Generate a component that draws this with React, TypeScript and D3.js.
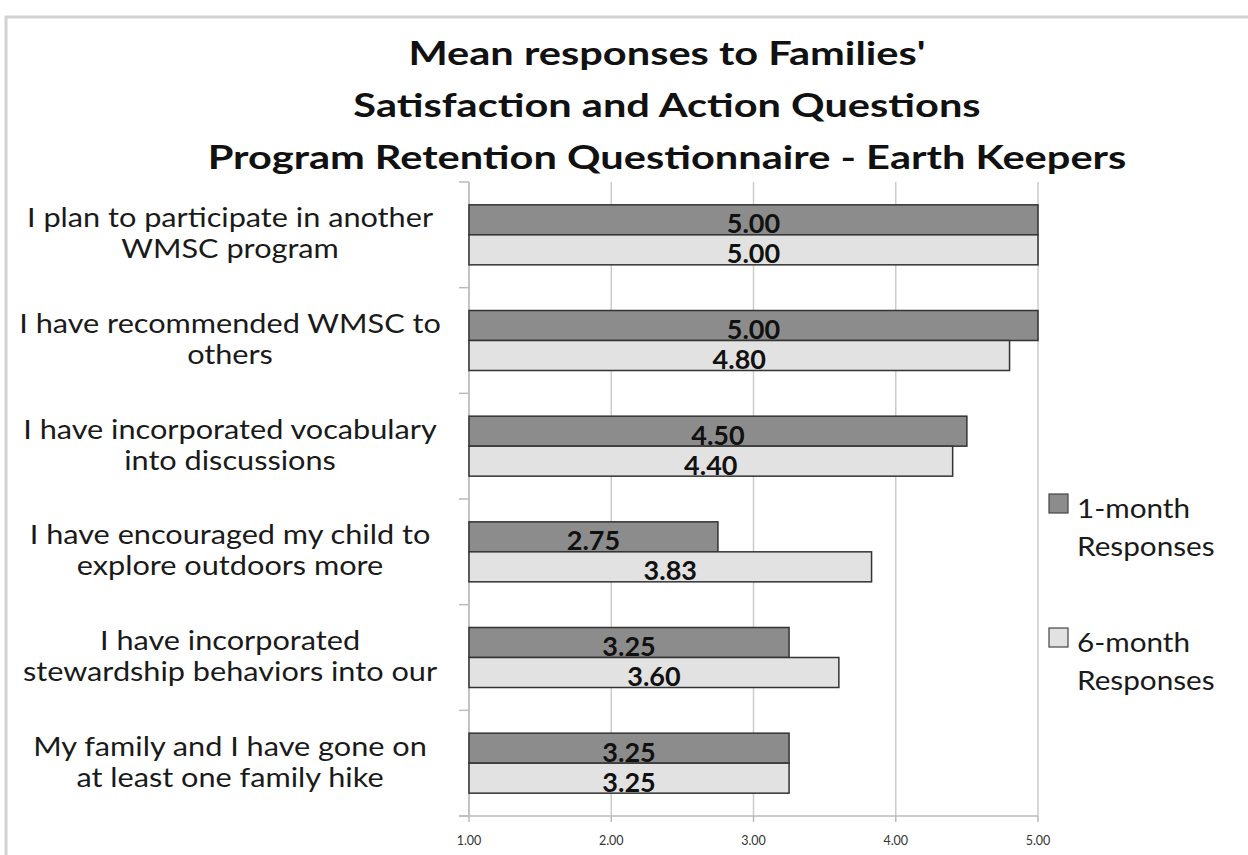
import React from "react";
import * as d3 from "d3";

const categories: string[][] = [
  ["I plan to participate in another", "WMSC program"],
  ["I have recommended WMSC to", "others"],
  ["I have incorporated vocabulary", "into discussions"],
  ["I have encouraged my child to", "explore outdoors more"],
  ["I have incorporated", "stewardship behaviors into our"],
  ["My family and I have gone on", "at least one family hike"],
];
const oneMonth = [5.0, 5.0, 4.5, 2.75, 3.25, 3.25];
const sixMonth = [5.0, 4.8, 4.4, 3.83, 3.6, 3.25];
const series = [
  { name: ["1-month", "Responses"], values: oneMonth, color: "#8c8c8c" },
  { name: ["6-month", "Responses"], values: sixMonth, color: "#e2e2e2" },
];
const xTicks = [1, 2, 3, 4, 5];
const titleLines = [
  "Mean responses to Families'",
  "Satisfaction and Action Questions",
  "Program Retention Questionnaire - Earth Keepers",
];

const FONT = "Lato, 'Open Sans', sans-serif";

export default function App() {
  const W = 1248, H = 855;
  const left = 469, right = 1038, top = 182, bottom = 816;
  const x = d3.scaleLinear().domain([1, 5]).range([left, right]);
  const y = d3.scaleBand<number>().domain(d3.range(categories.length)).range([top, bottom]);
  const bw = y.bandwidth();
  const barH = 30;
  const groupOff = (bw - barH * 2) / 2;

  return (
    <svg width={W} height={H} style={{ position: "absolute", left: 0, top: 0 }} fontFamily={FONT}>
      <rect x={0} y={0} width={W} height={H} fill="#fff" />
      <rect x={6} y={17} width={W + 4} height={H} fill="none" stroke="#d2d2d2" strokeWidth={3} />
      {titleLines.map((t, i) => (
        <g key={i} transform={`translate(667,${65 + i * 52}) scale(1.26,1)`}>
          <text x={0} y={0} textAnchor="middle" fontSize={33} fontWeight="bold" fill="#111">
            {t}
          </text>
        </g>
      ))}
      {xTicks.map((t) => (
        <g key={t}>
          <line x1={x(t)} x2={x(t)} y1={top} y2={bottom} stroke="#cccccc" strokeWidth={1.5} />
          <line x1={x(t)} x2={x(t)} y1={bottom} y2={bottom + 6} stroke="#bbbbbb" strokeWidth={1.5} />
          <text x={x(t)} y={845} textAnchor="middle" fontSize={12.5} fill="#333">
            {d3.format(".2f")(t)}
          </text>
        </g>
      ))}
      <line x1={left} x2={left} y1={top} y2={bottom} stroke="#bbbbbb" strokeWidth={1.5} />
      <line x1={left - 10} x2={right} y1={bottom} y2={bottom} stroke="#bbbbbb" strokeWidth={1.5} />
      {d3.range(categories.length + 1).map((i) => {
        const yy = top + i * bw;
        return <line key={i} x1={left - 10} x2={left} y1={yy} y2={yy} stroke="#bbbbbb" strokeWidth={1.5} />;
      })}
      {categories.map((lines, i) => {
        const cy = (y(i) as number) + bw / 2;
        return (
          <g key={i} transform={`translate(230,${cy + 8}) scale(1.18,1)`}>
            <text textAnchor="middle" fontSize={26} fill="#1a1a1a">
              {lines.map((l, j) => (
                <tspan key={j} x={0} y={(j - (lines.length - 1) / 2) * 31}>
                  {l}
                </tspan>
              ))}
            </text>
          </g>
        );
      })}
      {series.map((s, si) =>
        s.values.map((v, i) => {
          const by = (y(i) as number) + groupOff + si * barH;
          return (
            <g key={`${si}-${i}`}>
              <rect x={x(1)} y={by} width={x(v) - x(1)} height={barH} fill={s.color} stroke="#333" strokeWidth={1.5} />
              <text x={(x(1) + x(v)) / 2} y={by + barH - 1.5} textAnchor="middle" fontSize={27} fontWeight="bold" fill="#111">
                {d3.format(".2f")(v)}
              </text>
            </g>
          );
        })
      )}
      {series.map((s, si) => {
        const ly = 518 + si * 134;
        return (
          <g key={si}>
            <rect x={1049} y={ly - 24} width={19} height={19} fill={s.color} stroke="#444" strokeWidth={1.2} />
            {s.name.map((n, j) => (
              <g key={j} transform={`translate(1077,${ly + j * 38}) scale(1.1,1)`}>
                <text x={0} y={0} fontSize={27} fill="#1a1a1a">
                  {n}
                </text>
              </g>
            ))}
          </g>
        );
      })}
    </svg>
  );
}
